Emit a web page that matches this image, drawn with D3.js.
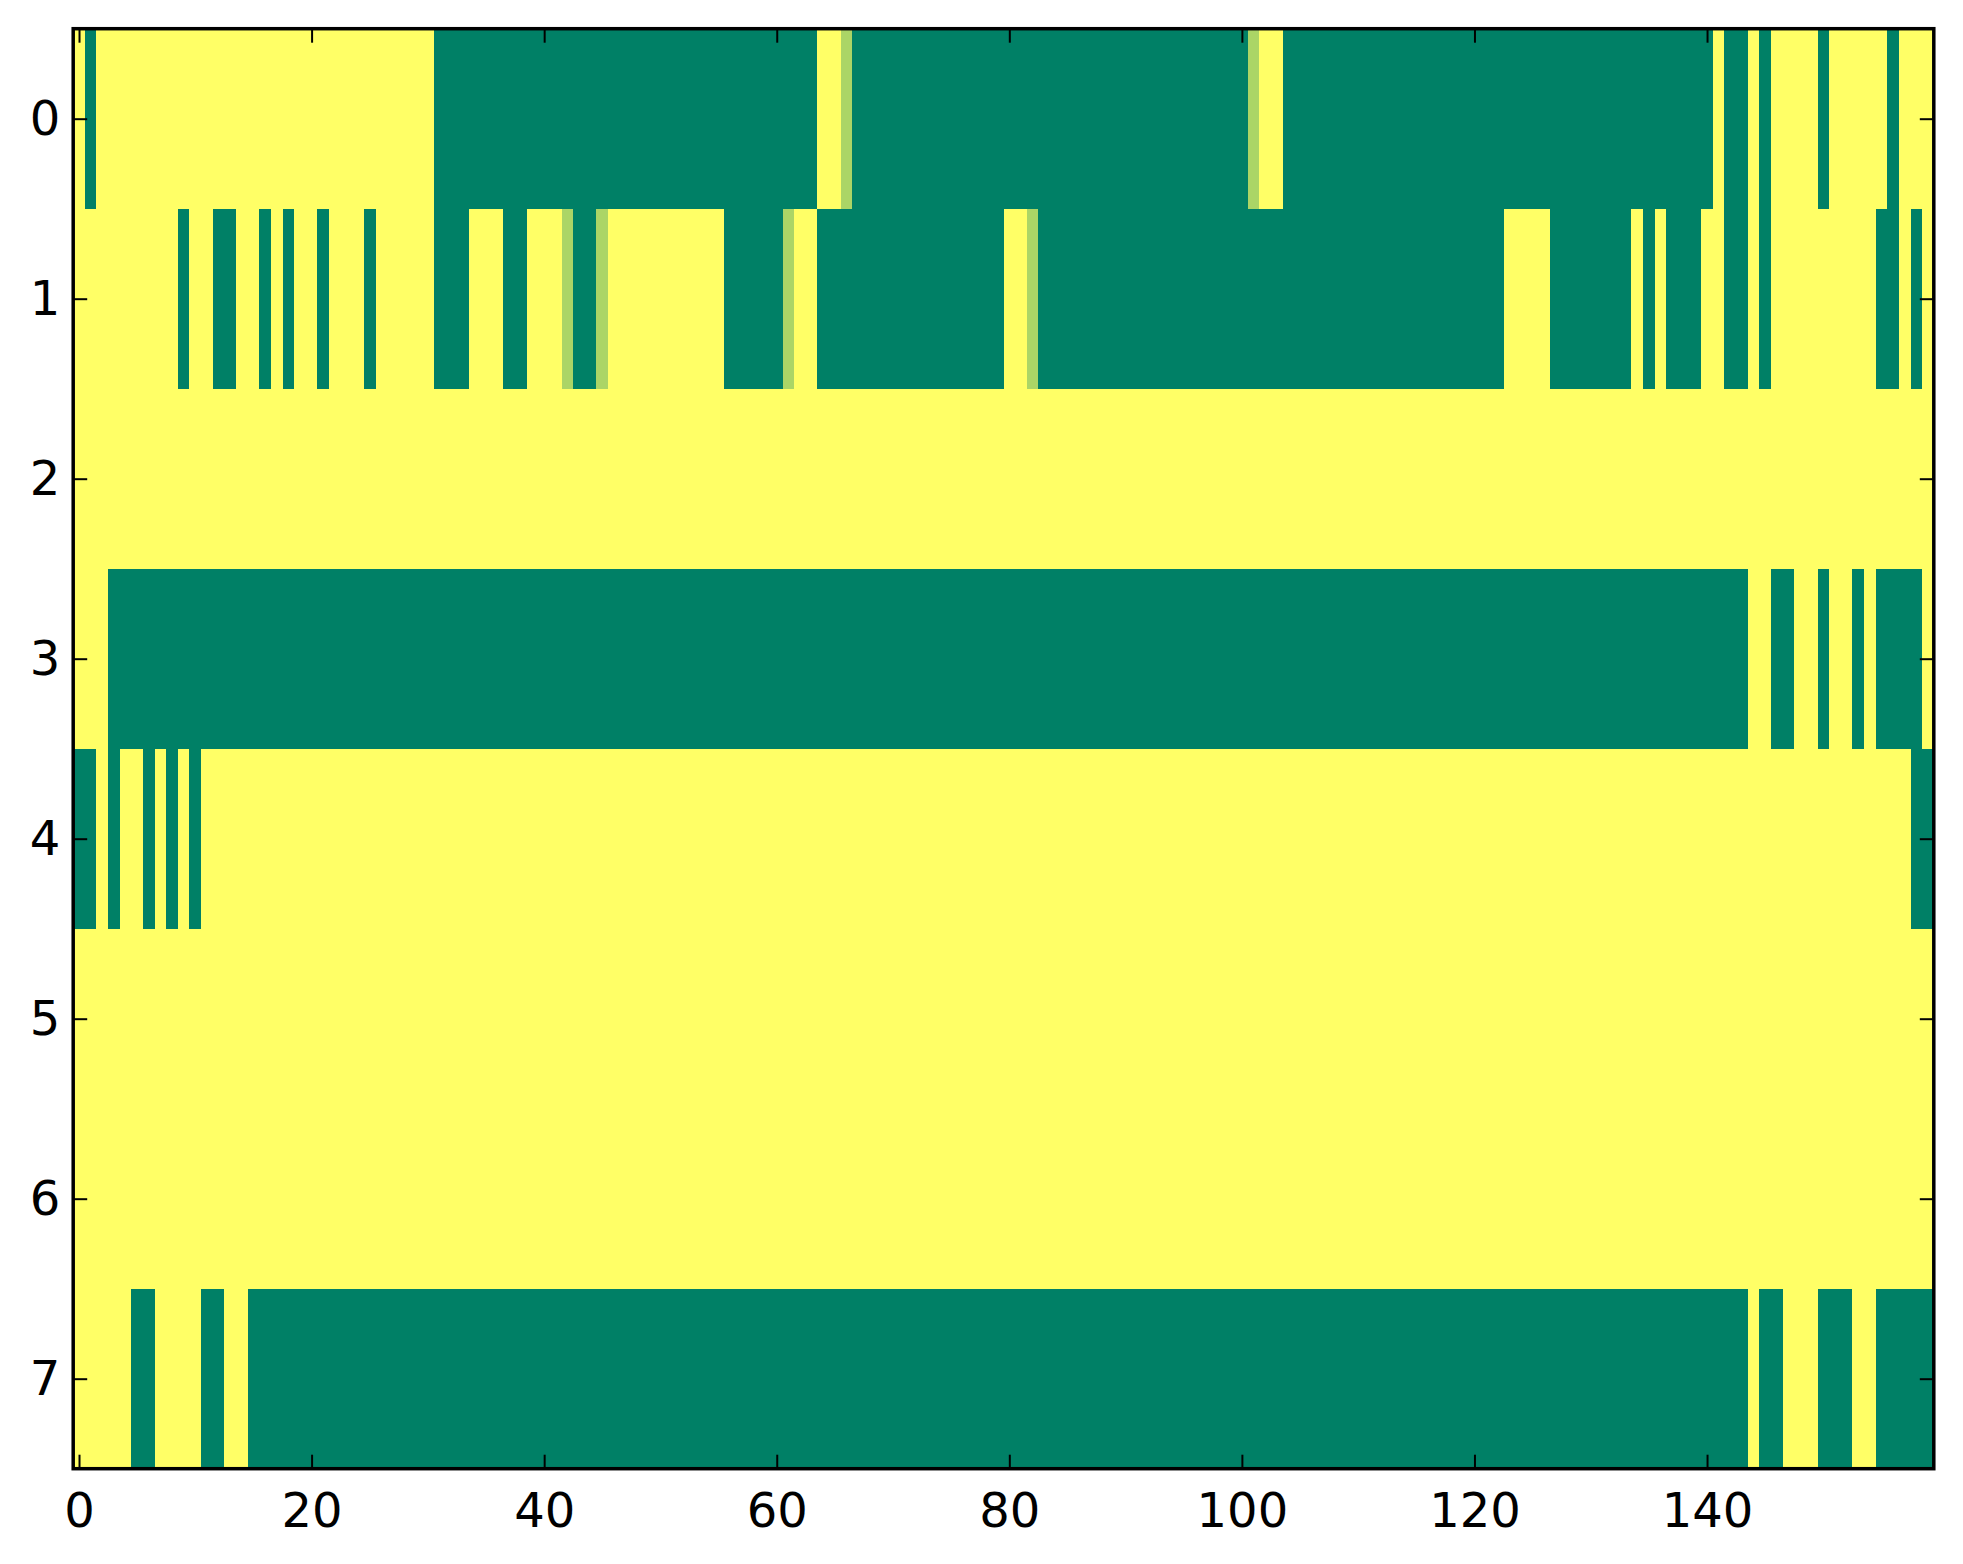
<!DOCTYPE html>
<html>
<head>
<meta charset="utf-8">
<script src="https://cdn.jsdelivr.net/npm/d3@7"></script>
<style>
  html, body { margin: 0; padding: 0; background: #fff; }
  svg { display: block; }
  text { font-family: "DejaVu Sans", sans-serif; }
</style>
</head>
<body>
<svg id="chart" width="1963" height="1564"></svg>
<script>
// ---- data: one array per row (0 = low, 1 = high, 0.67 = intermediate) ----
const row0 = [
  1,0,1,1,1,1,1,1,1,1, 1,1,1,1,1,1,1,1,1,1,
  1,1,1,1,1,1,1,1,1,1, 1,0,0,0,0,0,0,0,0,0,
  0,0,0,0,0,0,0,0,0,0, 0,0,0,0,0,0,0,0,0,0,
  0,0,0,0,1,1,0.67,0,0,0, 0,0,0,0,0,0,0,0,0,0,
  0,0,0,0,0,0,0,0,0,0, 0,0,0,0,0,0,0,0,0,0,
  0,0.67,1,1,0,0,0,0,0,0, 0,0,0,0,0,0,0,0,0,0,
  0,0,0,0,0,0,0,0,0,0, 0,0,0,0,0,0,0,0,0,0,
  0,1,0,0,1,0,1,1,1,1, 0,1,1,1,1,1,0,1,1,1
];
const row1 = [
  1,1,1,1,1,1,1,1,1,0, 1,1,0,0,1,1,0,1,0,1,
  1,0,1,1,1,0,1,1,1,1, 1,0,0,0,1,1,1,0,0,1,
  1,1,0.67,0,0,0.67,1,1,1,1, 1,1,1,1,1,1,0,0,0,0,
  0,0.67,1,1,0,0,0,0,0,0, 0,0,0,0,0,0,0,0,0,0,
  1,1,0.67,0,0,0,0,0,0,0, 0,0,0,0,0,0,0,0,0,0,
  0,0,0,0,0,0,0,0,0,0, 0,0,0,0,0,0,0,0,0,0,
  0,0,0,1,1,1,1,0,0,0, 0,0,0,0,1,0,1,0,0,0,
  1,1,0,0,1,0,1,1,1,1, 1,1,1,1,1,0,0,1,0,1
];
const row2 = [
  1,1,1,1,1,1,1,1,1,1, 1,1,1,1,1,1,1,1,1,1,
  1,1,1,1,1,1,1,1,1,1, 1,1,1,1,1,1,1,1,1,1,
  1,1,1,1,1,1,1,1,1,1, 1,1,1,1,1,1,1,1,1,1,
  1,1,1,1,1,1,1,1,1,1, 1,1,1,1,1,1,1,1,1,1,
  1,1,1,1,1,1,1,1,1,1, 1,1,1,1,1,1,1,1,1,1,
  1,1,1,1,1,1,1,1,1,1, 1,1,1,1,1,1,1,1,1,1,
  1,1,1,1,1,1,1,1,1,1, 1,1,1,1,1,1,1,1,1,1,
  1,1,1,1,1,1,1,1,1,1, 1,1,1,1,1,1,1,1,1,1
];
const row3 = [
  1,1,1,0,0,0,0,0,0,0, 0,0,0,0,0,0,0,0,0,0,
  0,0,0,0,0,0,0,0,0,0, 0,0,0,0,0,0,0,0,0,0,
  0,0,0,0,0,0,0,0,0,0, 0,0,0,0,0,0,0,0,0,0,
  0,0,0,0,0,0,0,0,0,0, 0,0,0,0,0,0,0,0,0,0,
  0,0,0,0,0,0,0,0,0,0, 0,0,0,0,0,0,0,0,0,0,
  0,0,0,0,0,0,0,0,0,0, 0,0,0,0,0,0,0,0,0,0,
  0,0,0,0,0,0,0,0,0,0, 0,0,0,0,0,0,0,0,0,0,
  0,0,0,0,1,1,0,0,1,1, 0,1,1,0,1,0,0,0,0,1
];
const row4 = [
  0,0,1,0,1,1,0,1,0,1, 0,1,1,1,1,1,1,1,1,1,
  1,1,1,1,1,1,1,1,1,1, 1,1,1,1,1,1,1,1,1,1,
  1,1,1,1,1,1,1,1,1,1, 1,1,1,1,1,1,1,1,1,1,
  1,1,1,1,1,1,1,1,1,1, 1,1,1,1,1,1,1,1,1,1,
  1,1,1,1,1,1,1,1,1,1, 1,1,1,1,1,1,1,1,1,1,
  1,1,1,1,1,1,1,1,1,1, 1,1,1,1,1,1,1,1,1,1,
  1,1,1,1,1,1,1,1,1,1, 1,1,1,1,1,1,1,1,1,1,
  1,1,1,1,1,1,1,1,1,1, 1,1,1,1,1,1,1,1,0,0
];
const row5 = [
  1,1,1,1,1,1,1,1,1,1, 1,1,1,1,1,1,1,1,1,1,
  1,1,1,1,1,1,1,1,1,1, 1,1,1,1,1,1,1,1,1,1,
  1,1,1,1,1,1,1,1,1,1, 1,1,1,1,1,1,1,1,1,1,
  1,1,1,1,1,1,1,1,1,1, 1,1,1,1,1,1,1,1,1,1,
  1,1,1,1,1,1,1,1,1,1, 1,1,1,1,1,1,1,1,1,1,
  1,1,1,1,1,1,1,1,1,1, 1,1,1,1,1,1,1,1,1,1,
  1,1,1,1,1,1,1,1,1,1, 1,1,1,1,1,1,1,1,1,1,
  1,1,1,1,1,1,1,1,1,1, 1,1,1,1,1,1,1,1,1,1
];
const row6 = [
  1,1,1,1,1,1,1,1,1,1, 1,1,1,1,1,1,1,1,1,1,
  1,1,1,1,1,1,1,1,1,1, 1,1,1,1,1,1,1,1,1,1,
  1,1,1,1,1,1,1,1,1,1, 1,1,1,1,1,1,1,1,1,1,
  1,1,1,1,1,1,1,1,1,1, 1,1,1,1,1,1,1,1,1,1,
  1,1,1,1,1,1,1,1,1,1, 1,1,1,1,1,1,1,1,1,1,
  1,1,1,1,1,1,1,1,1,1, 1,1,1,1,1,1,1,1,1,1,
  1,1,1,1,1,1,1,1,1,1, 1,1,1,1,1,1,1,1,1,1,
  1,1,1,1,1,1,1,1,1,1, 1,1,1,1,1,1,1,1,1,1
];
const row7 = [
  1,1,1,1,1,0,0,1,1,1, 1,0,0,1,1,0,0,0,0,0,
  0,0,0,0,0,0,0,0,0,0, 0,0,0,0,0,0,0,0,0,0,
  0,0,0,0,0,0,0,0,0,0, 0,0,0,0,0,0,0,0,0,0,
  0,0,0,0,0,0,0,0,0,0, 0,0,0,0,0,0,0,0,0,0,
  0,0,0,0,0,0,0,0,0,0, 0,0,0,0,0,0,0,0,0,0,
  0,0,0,0,0,0,0,0,0,0, 0,0,0,0,0,0,0,0,0,0,
  0,0,0,0,0,0,0,0,0,0, 0,0,0,0,0,0,0,0,0,0,
  0,0,0,0,1,0,0,1,1,1, 0,0,0,1,1,0,0,0,0,0
];
const rows = [row0, row1, row2, row3, row4, row5, row6, row7];
const xTickValues = [0, 20, 40, 60, 80, 100, 120, 140];
const yTickValues = [0, 1, 2, 3, 4, 5, 6, 7];

// ---- layout ----
const plotLeft = 73.2, plotRight = 1933.8, plotTop = 28.7, plotBottom = 1468.7;
const nCols = row0.length, nRows = rows.length;

const svg = d3.select("#chart");
svg.append("rect").attr("width", 1963).attr("height", 1564).attr("fill", "#fff");

const x = d3.scaleLinear().domain([-0.5, nCols - 0.5]).range([plotLeft, plotRight]);
const y = d3.scaleLinear().domain([-0.5, nRows - 0.5]).range([plotTop, plotBottom]);
// matplotlib "summer" colormap: linear from (0,0.5,0.4) to (1,1,0.4)
const color = d3.scaleLinear().domain([0, 1]).range(["#008066", "#ffff66"]).interpolate(d3.interpolateRgb);

const cells = [];
rows.forEach((r, i) => r.forEach((v, j) => cells.push({ i, j, v })));

svg.append("g")
  .selectAll("rect")
  .data(cells)
  .join("rect")
  .attr("x", d => x(d.j - 0.5))
  .attr("y", d => y(d.i - 0.5))
  .attr("width", d => x(d.j + 0.5) - x(d.j - 0.5) + 0.6)
  .attr("height", d => y(d.i + 0.5) - y(d.i - 0.5) + 0.6)
  .attr("fill", d => color(d.v))
  .attr("shape-rendering", "crispEdges");

// ---- axes (inward ticks on all four sides) ----
const tickLen = 14, fontSize = 48;

function styleAxis(g) {
  g.select(".domain").remove();
  g.selectAll(".tick line").attr("stroke", "#000").attr("stroke-width", 2);
  g.selectAll(".tick text").attr("fill", "#000").style("font-size", fontSize + "px")
    .style("font-family", "'DejaVu Sans', sans-serif");
}

svg.append("g").attr("transform", `translate(0,${plotBottom})`)
  .call(d3.axisBottom(x).tickValues(xTickValues).tickSizeInner(-tickLen).tickSizeOuter(0).tickPadding(24))
  .call(styleAxis);
svg.append("g").attr("transform", `translate(0,${plotTop})`)
  .call(d3.axisTop(x).tickValues(xTickValues).tickSizeInner(-tickLen).tickSizeOuter(0).tickFormat(""))
  .call(styleAxis);
svg.append("g").attr("transform", `translate(${plotLeft},0)`)
  .call(d3.axisLeft(y).tickValues(yTickValues).tickSizeInner(-tickLen).tickSizeOuter(0).tickPadding(13))
  .call(styleAxis);
svg.append("g").attr("transform", `translate(${plotRight},0)`)
  .call(d3.axisRight(y).tickValues(yTickValues).tickSizeInner(-tickLen).tickSizeOuter(0).tickFormat(""))
  .call(styleAxis);

// frame
svg.append("rect")
  .attr("x", plotLeft).attr("y", plotTop)
  .attr("width", plotRight - plotLeft).attr("height", plotBottom - plotTop)
  .attr("fill", "none").attr("stroke", "#000").attr("stroke-width", 3.5);
</script>
</body>
</html>
